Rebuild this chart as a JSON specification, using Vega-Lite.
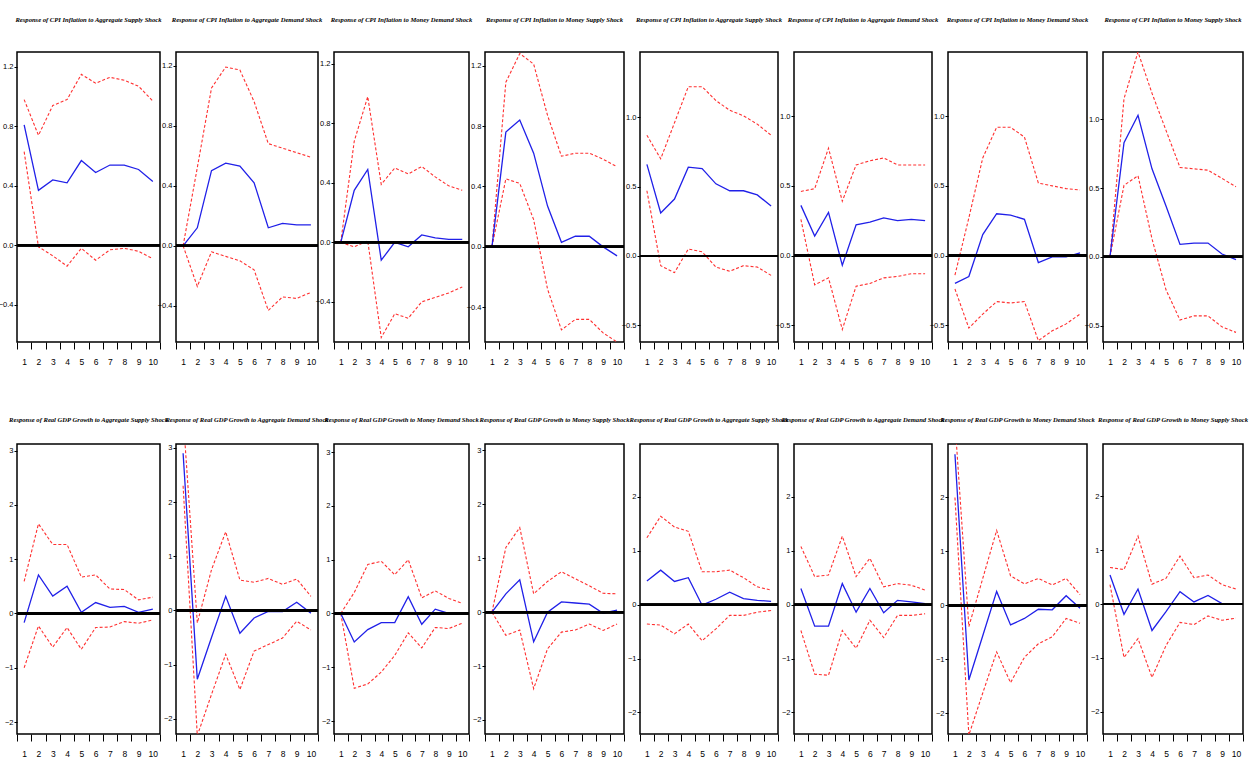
{
"$schema": "https://vega.github.io/schema/vega-lite/v6.json",
"background": "white",
"padding": {"left": -3, "top": 16, "right": 5, "bottom": 5},
"datasets": {"irf": [
{"p":1,"x":1,"r":0.81,"u":0.98,"l":0.63},{"p":1,"x":2,"r":0.37,"u":0.74,"l":-0.01},{"p":1,"x":3,"r":0.44,"u":0.94,"l":-0.07},{"p":1,"x":4,"r":0.42,"u":0.98,"l":-0.14},{"p":1,"x":5,"r":0.57,"u":1.15,"l":-0.02},{"p":1,"x":6,"r":0.49,"u":1.09,"l":-0.10},{"p":1,"x":7,"r":0.54,"u":1.13,"l":-0.03},{"p":1,"x":8,"r":0.54,"u":1.11,"l":-0.02},{"p":1,"x":9,"r":0.51,"u":1.07,"l":-0.04},{"p":1,"x":10,"r":0.43,"u":0.97,"l":-0.09},
{"p":2,"x":1,"r":0,"u":0,"l":0},{"p":2,"x":2,"r":0.12,"u":0.52,"l":-0.27},{"p":2,"x":3,"r":0.50,"u":1.05,"l":-0.04},{"p":2,"x":4,"r":0.55,"u":1.19,"l":-0.07},{"p":2,"x":5,"r":0.53,"u":1.17,"l":-0.10},{"p":2,"x":6,"r":0.42,"u":0.96,"l":-0.16},{"p":2,"x":7,"r":0.12,"u":0.68,"l":-0.43},{"p":2,"x":8,"r":0.15,"u":0.65,"l":-0.34},{"p":2,"x":9,"r":0.14,"u":0.62,"l":-0.35},{"p":2,"x":10,"r":0.14,"u":0.59,"l":-0.31},
{"p":3,"x":1,"r":0,"u":0,"l":0},{"p":3,"x":2,"r":0.35,"u":0.68,"l":-0.03},{"p":3,"x":3,"r":0.49,"u":0.98,"l":0.01},{"p":3,"x":4,"r":-0.12,"u":0.39,"l":-0.64},{"p":3,"x":5,"r":0.0,"u":0.50,"l":-0.48},{"p":3,"x":6,"r":-0.03,"u":0.46,"l":-0.51},{"p":3,"x":7,"r":0.05,"u":0.51,"l":-0.40},{"p":3,"x":8,"r":0.03,"u":0.44,"l":-0.37},{"p":3,"x":9,"r":0.02,"u":0.38,"l":-0.34},{"p":3,"x":10,"r":0.02,"u":0.35,"l":-0.30},
{"p":4,"x":1,"r":0,"u":0,"l":0},{"p":4,"x":2,"r":0.76,"u":1.09,"l":0.45},{"p":4,"x":3,"r":0.84,"u":1.28,"l":0.42},{"p":4,"x":4,"r":0.62,"u":1.21,"l":0.18},{"p":4,"x":5,"r":0.27,"u":0.87,"l":-0.28},{"p":4,"x":6,"r":0.03,"u":0.60,"l":-0.55},{"p":4,"x":7,"r":0.07,"u":0.62,"l":-0.48},{"p":4,"x":8,"r":0.07,"u":0.62,"l":-0.48},{"p":4,"x":9,"r":0.0,"u":0.58,"l":-0.57},{"p":4,"x":10,"r":-0.06,"u":0.53,"l":-0.63},
{"p":5,"x":1,"r":0.66,"u":0.87,"l":0.47},{"p":5,"x":2,"r":0.31,"u":0.70,"l":-0.07},{"p":5,"x":3,"r":0.41,"u":0.96,"l":-0.12},{"p":5,"x":4,"r":0.64,"u":1.22,"l":0.05},{"p":5,"x":5,"r":0.63,"u":1.22,"l":0.03},{"p":5,"x":6,"r":0.52,"u":1.12,"l":-0.08},{"p":5,"x":7,"r":0.47,"u":1.05,"l":-0.11},{"p":5,"x":8,"r":0.47,"u":1.01,"l":-0.07},{"p":5,"x":9,"r":0.44,"u":0.95,"l":-0.08},{"p":5,"x":10,"r":0.36,"u":0.87,"l":-0.14},
{"p":6,"x":1,"r":0.36,"u":0.46,"l":0.26},{"p":6,"x":2,"r":0.14,"u":0.48,"l":-0.21},{"p":6,"x":3,"r":0.31,"u":0.77,"l":-0.16},{"p":6,"x":4,"r":-0.07,"u":0.39,"l":-0.53},{"p":6,"x":5,"r":0.22,"u":0.65,"l":-0.22},{"p":6,"x":6,"r":0.24,"u":0.68,"l":-0.20},{"p":6,"x":7,"r":0.27,"u":0.70,"l":-0.16},{"p":6,"x":8,"r":0.25,"u":0.65,"l":-0.15},{"p":6,"x":9,"r":0.26,"u":0.65,"l":-0.13},{"p":6,"x":10,"r":0.25,"u":0.65,"l":-0.13},
{"p":7,"x":1,"r":-0.20,"u":-0.14,"l":-0.24},{"p":7,"x":2,"r":-0.15,"u":0.27,"l":-0.52},{"p":7,"x":3,"r":0.15,"u":0.70,"l":-0.42},{"p":7,"x":4,"r":0.30,"u":0.92,"l":-0.33},{"p":7,"x":5,"r":0.29,"u":0.92,"l":-0.34},{"p":7,"x":6,"r":0.26,"u":0.85,"l":-0.33},{"p":7,"x":7,"r":-0.05,"u":0.52,"l":-0.61},{"p":7,"x":8,"r":-0.01,"u":0.50,"l":-0.54},{"p":7,"x":9,"r":-0.01,"u":0.48,"l":-0.49},{"p":7,"x":10,"r":0.02,"u":0.47,"l":-0.42},
{"p":8,"x":1,"r":0,"u":0,"l":0},{"p":8,"x":2,"r":0.83,"u":1.15,"l":0.52},{"p":8,"x":3,"r":1.03,"u":1.49,"l":0.59},{"p":8,"x":4,"r":0.64,"u":1.19,"l":0.13},{"p":8,"x":5,"r":0.37,"u":0.92,"l":-0.24},{"p":8,"x":6,"r":0.09,"u":0.65,"l":-0.46},{"p":8,"x":7,"r":0.10,"u":0.64,"l":-0.43},{"p":8,"x":8,"r":0.10,"u":0.63,"l":-0.43},{"p":8,"x":9,"r":0.02,"u":0.57,"l":-0.51},{"p":8,"x":10,"r":-0.02,"u":0.51,"l":-0.55},
{"p":9,"x":1,"r":-0.17,"u":0.59,"l":-1.00},{"p":9,"x":2,"r":0.71,"u":1.65,"l":-0.23},{"p":9,"x":3,"r":0.32,"u":1.27,"l":-0.62},{"p":9,"x":4,"r":0.50,"u":1.27,"l":-0.26},{"p":9,"x":5,"r":0.02,"u":0.67,"l":-0.66},{"p":9,"x":6,"r":0.20,"u":0.71,"l":-0.26},{"p":9,"x":7,"r":0.11,"u":0.45,"l":-0.25},{"p":9,"x":8,"r":0.13,"u":0.44,"l":-0.15},{"p":9,"x":9,"r":0.02,"u":0.25,"l":-0.18},{"p":9,"x":10,"r":0.08,"u":0.30,"l":-0.12},
{"p":10,"x":1,"r":2.9,"u":3.6,"l":2.3},{"p":10,"x":2,"r":-1.27,"u":-0.23,"l":-2.31},{"p":10,"x":3,"r":-0.50,"u":0.75,"l":-1.55},{"p":10,"x":4,"r":0.26,"u":1.45,"l":-0.81},{"p":10,"x":5,"r":-0.42,"u":0.56,"l":-1.46},{"p":10,"x":6,"r":-0.14,"u":0.52,"l":-0.75},{"p":10,"x":7,"r":-0.02,"u":0.59,"l":-0.63},{"p":10,"x":8,"r":-0.02,"u":0.48,"l":-0.51},{"p":10,"x":9,"r":0.15,"u":0.58,"l":-0.20},{"p":10,"x":10,"r":-0.05,"u":0.26,"l":-0.36},
{"p":11,"x":1,"r":0,"u":0,"l":0},{"p":11,"x":2,"r":-0.53,"u":0.39,"l":-1.39},{"p":11,"x":3,"r":-0.30,"u":0.91,"l":-1.31},{"p":11,"x":4,"r":-0.17,"u":0.97,"l":-1.09},{"p":11,"x":5,"r":-0.17,"u":0.72,"l":-0.78},{"p":11,"x":6,"r":0.31,"u":1.00,"l":-0.36},{"p":11,"x":7,"r":-0.20,"u":0.29,"l":-0.64},{"p":11,"x":8,"r":0.08,"u":0.42,"l":-0.26},{"p":11,"x":9,"r":0.0,"u":0.28,"l":-0.28},{"p":11,"x":10,"r":0.0,"u":0.19,"l":-0.18},
{"p":12,"x":1,"r":0,"u":0,"l":0},{"p":12,"x":2,"r":0.34,"u":1.20,"l":-0.43},{"p":12,"x":3,"r":0.60,"u":1.57,"l":-0.33},{"p":12,"x":4,"r":-0.55,"u":0.34,"l":-1.42},{"p":12,"x":5,"r":0.0,"u":0.57,"l":-0.68},{"p":12,"x":6,"r":0.19,"u":0.75,"l":-0.37},{"p":12,"x":7,"r":0.17,"u":0.62,"l":-0.33},{"p":12,"x":8,"r":0.15,"u":0.49,"l":-0.22},{"p":12,"x":9,"r":-0.02,"u":0.35,"l":-0.34},{"p":12,"x":10,"r":0.04,"u":0.34,"l":-0.22},
{"p":13,"x":1,"r":0.44,"u":1.24,"l":-0.36},{"p":13,"x":2,"r":0.64,"u":1.64,"l":-0.38},{"p":13,"x":3,"r":0.43,"u":1.44,"l":-0.54},{"p":13,"x":4,"r":0.50,"u":1.36,"l":-0.36},{"p":13,"x":5,"r":-0.01,"u":0.61,"l":-0.67},{"p":13,"x":6,"r":0.10,"u":0.61,"l":-0.45},{"p":13,"x":7,"r":0.23,"u":0.64,"l":-0.20},{"p":13,"x":8,"r":0.11,"u":0.50,"l":-0.20},{"p":13,"x":9,"r":0.08,"u":0.33,"l":-0.14},{"p":13,"x":10,"r":0.06,"u":0.27,"l":-0.11},
{"p":14,"x":1,"r":0.30,"u":1.08,"l":-0.48},{"p":14,"x":2,"r":-0.40,"u":0.52,"l":-1.29},{"p":14,"x":3,"r":-0.40,"u":0.55,"l":-1.31},{"p":14,"x":4,"r":0.39,"u":1.27,"l":-0.48},{"p":14,"x":5,"r":-0.14,"u":0.52,"l":-0.81},{"p":14,"x":6,"r":0.30,"u":0.86,"l":-0.29},{"p":14,"x":7,"r":-0.15,"u":0.33,"l":-0.61},{"p":14,"x":8,"r":0.08,"u":0.39,"l":-0.20},{"p":14,"x":9,"r":0.05,"u":0.36,"l":-0.20},{"p":14,"x":10,"r":0.02,"u":0.27,"l":-0.17},
{"p":15,"x":1,"r":2.8,"u":3.4,"l":2.0},{"p":15,"x":2,"r":-1.38,"u":-0.39,"l":-2.40},{"p":15,"x":3,"r":-0.56,"u":0.50,"l":-1.62},{"p":15,"x":4,"r":0.26,"u":1.39,"l":-0.86},{"p":15,"x":5,"r":-0.36,"u":0.55,"l":-1.43},{"p":15,"x":6,"r":-0.24,"u":0.40,"l":-0.96},{"p":15,"x":7,"r":-0.07,"u":0.50,"l":-0.71},{"p":15,"x":8,"r":-0.08,"u":0.38,"l":-0.58},{"p":15,"x":9,"r":0.18,"u":0.50,"l":-0.24},{"p":15,"x":10,"r":-0.05,"u":0.20,"l":-0.33},
{"p":16,"x":1,"r":0.54,"u":0.68,"l":0.36},{"p":16,"x":2,"r":-0.19,"u":0.64,"l":-0.99},{"p":16,"x":3,"r":0.28,"u":1.26,"l":-0.64},{"p":16,"x":4,"r":-0.49,"u":0.37,"l":-1.36},{"p":16,"x":5,"r":-0.14,"u":0.48,"l":-0.77},{"p":16,"x":6,"r":0.23,"u":0.89,"l":-0.34},{"p":16,"x":7,"r":0.04,"u":0.49,"l":-0.38},{"p":16,"x":8,"r":0.16,"u":0.54,"l":-0.22},{"p":16,"x":9,"r":0.01,"u":0.36,"l":-0.30},{"p":16,"x":10,"r":0.01,"u":0.28,"l":-0.26}
]},
"columns": 8,
"spacing": {"row": 102, "column": 16},
"bounds": "flush",
"align": "each",
"concat": [
{"title":{"text":"Response of CPI Inflation to Aggregate Supply Shock","offset":28},"width":143,"height":290,"data":{"name":"irf"},"transform":[{"filter":"datum.p==1"}],"resolve":{"axis":{"x":"independent","y":"independent"}},"layer":[
{"mark":{"type":"line","color":"#ff3030","strokeDash":[3,2],"strokeWidth":1.1,"clip":true},"encoding":{"x":{"field":"x","type":"quantitative","scale":{"domain":[0.5,10.5],"nice":false},"axis":{"orient":"bottom","values":[1,2,3,4,5,6,7,8,9,10],"ticks":false,"labelPadding":15,"title":null}},"y":{"field":"u","type":"quantitative","scale":{"domain":[-0.65,1.30],"nice":false,"zero":false},"axis":{"orient":"left","values":[-0.4,0,0.4,0.8,1.2],"format":".1f","title":null}}}},
{"mark":{"type":"line","color":"#ff3030","strokeDash":[3,2],"strokeWidth":1.1,"clip":true},"encoding":{"x":{"field":"x","type":"quantitative","axis":null},"y":{"field":"l","type":"quantitative","axis":null}}},
{"mark":{"type":"line","color":"#2020e8","strokeWidth":1.3,"clip":true},"encoding":{"x":{"field":"x","type":"quantitative","axis":{"orient":"bottom","values":[0.5,1.5,2.5,3.5,4.5,5.5,6.5,7.5,8.5,9.5,10.5],"labels":false,"tickSize":7,"title":null}},"y":{"field":"r","type":"quantitative","axis":null}}},
{"mark":{"type":"rule","color":"black","strokeWidth":2},"encoding":{"y":{"datum":0,"type":"quantitative","axis":null}}}]},
{"title":{"text":"Response of CPI Inflation to Aggregate Demand Shock","offset":28},"width":142,"height":290,"data":{"name":"irf"},"transform":[{"filter":"datum.p==2"}],"resolve":{"axis":{"x":"independent","y":"independent"}},"layer":[
{"mark":{"type":"line","color":"#ff3030","strokeDash":[3,2],"strokeWidth":1.1,"clip":true},"encoding":{"x":{"field":"x","type":"quantitative","scale":{"domain":[0.5,10.5],"nice":false},"axis":{"orient":"bottom","values":[1,2,3,4,5,6,7,8,9,10],"ticks":false,"labelPadding":15,"title":null}},"y":{"field":"u","type":"quantitative","scale":{"domain":[-0.64,1.29],"nice":false,"zero":false},"axis":{"orient":"left","values":[-0.4,0,0.4,0.8,1.2],"format":".1f","title":null}}}},
{"mark":{"type":"line","color":"#ff3030","strokeDash":[3,2],"strokeWidth":1.1,"clip":true},"encoding":{"x":{"field":"x","type":"quantitative","axis":null},"y":{"field":"l","type":"quantitative","axis":null}}},
{"mark":{"type":"line","color":"#2020e8","strokeWidth":1.3,"clip":true},"encoding":{"x":{"field":"x","type":"quantitative","axis":{"orient":"bottom","values":[0.5,1.5,2.5,3.5,4.5,5.5,6.5,7.5,8.5,9.5,10.5],"labels":false,"tickSize":7,"title":null}},"y":{"field":"r","type":"quantitative","axis":null}}},
{"mark":{"type":"rule","color":"black","strokeWidth":2},"encoding":{"y":{"datum":0,"type":"quantitative","axis":null}}}]},
{"title":{"text":"Response of CPI Inflation to Money Demand Shock","offset":28},"width":135,"height":290,"data":{"name":"irf"},"transform":[{"filter":"datum.p==3"}],"resolve":{"axis":{"x":"independent","y":"independent"}},"layer":[
{"mark":{"type":"line","color":"#ff3030","strokeDash":[3,2],"strokeWidth":1.1,"clip":true},"encoding":{"x":{"field":"x","type":"quantitative","scale":{"domain":[0.5,10.5],"nice":false},"axis":{"orient":"bottom","values":[1,2,3,4,5,6,7,8,9,10],"ticks":false,"labelPadding":15,"title":null}},"y":{"field":"u","type":"quantitative","scale":{"domain":[-0.67,1.28],"nice":false,"zero":false},"axis":{"orient":"left","values":[-0.4,0,0.4,0.8,1.2],"format":".1f","title":null}}}},
{"mark":{"type":"line","color":"#ff3030","strokeDash":[3,2],"strokeWidth":1.1,"clip":true},"encoding":{"x":{"field":"x","type":"quantitative","axis":null},"y":{"field":"l","type":"quantitative","axis":null}}},
{"mark":{"type":"line","color":"#2020e8","strokeWidth":1.3,"clip":true},"encoding":{"x":{"field":"x","type":"quantitative","axis":{"orient":"bottom","values":[0.5,1.5,2.5,3.5,4.5,5.5,6.5,7.5,8.5,9.5,10.5],"labels":false,"tickSize":7,"title":null}},"y":{"field":"r","type":"quantitative","axis":null}}},
{"mark":{"type":"rule","color":"black","strokeWidth":2},"encoding":{"y":{"datum":0,"type":"quantitative","axis":null}}}]},
{"title":{"text":"Response of CPI Inflation to Money Supply Shock","offset":28},"width":139,"height":290,"data":{"name":"irf"},"transform":[{"filter":"datum.p==4"}],"resolve":{"axis":{"x":"independent","y":"independent"}},"layer":[
{"mark":{"type":"line","color":"#ff3030","strokeDash":[3,2],"strokeWidth":1.1,"clip":true},"encoding":{"x":{"field":"x","type":"quantitative","scale":{"domain":[0.5,10.5],"nice":false},"axis":{"orient":"bottom","values":[1,2,3,4,5,6,7,8,9,10],"ticks":false,"labelPadding":15,"title":null}},"y":{"field":"u","type":"quantitative","scale":{"domain":[-0.63,1.29],"nice":false,"zero":false},"axis":{"orient":"left","values":[-0.4,0,0.4,0.8,1.2],"format":".1f","title":null}}}},
{"mark":{"type":"line","color":"#ff3030","strokeDash":[3,2],"strokeWidth":1.1,"clip":true},"encoding":{"x":{"field":"x","type":"quantitative","axis":null},"y":{"field":"l","type":"quantitative","axis":null}}},
{"mark":{"type":"line","color":"#2020e8","strokeWidth":1.3,"clip":true},"encoding":{"x":{"field":"x","type":"quantitative","axis":{"orient":"bottom","values":[0.5,1.5,2.5,3.5,4.5,5.5,6.5,7.5,8.5,9.5,10.5],"labels":false,"tickSize":7,"title":null}},"y":{"field":"r","type":"quantitative","axis":null}}},
{"mark":{"type":"rule","color":"black","strokeWidth":2},"encoding":{"y":{"datum":0,"type":"quantitative","axis":null}}}]},
{"title":{"text":"Response of CPI Inflation to Aggregate Supply Shock","offset":28},"width":138,"height":290,"data":{"name":"irf"},"transform":[{"filter":"datum.p==5"}],"resolve":{"axis":{"x":"independent","y":"independent"}},"layer":[
{"mark":{"type":"line","color":"#ff3030","strokeDash":[3,2],"strokeWidth":1.1,"clip":true},"encoding":{"x":{"field":"x","type":"quantitative","scale":{"domain":[0.5,10.5],"nice":false},"axis":{"orient":"bottom","values":[1,2,3,4,5,6,7,8,9,10],"ticks":false,"labelPadding":15,"title":null}},"y":{"field":"u","type":"quantitative","scale":{"domain":[-0.62,1.47],"nice":false,"zero":false},"axis":{"orient":"left","values":[-0.5,0,0.5,1],"format":".1f","title":null}}}},
{"mark":{"type":"line","color":"#ff3030","strokeDash":[3,2],"strokeWidth":1.1,"clip":true},"encoding":{"x":{"field":"x","type":"quantitative","axis":null},"y":{"field":"l","type":"quantitative","axis":null}}},
{"mark":{"type":"line","color":"#2020e8","strokeWidth":1.3,"clip":true},"encoding":{"x":{"field":"x","type":"quantitative","axis":{"orient":"bottom","values":[0.5,1.5,2.5,3.5,4.5,5.5,6.5,7.5,8.5,9.5,10.5],"labels":false,"tickSize":7,"title":null}},"y":{"field":"r","type":"quantitative","axis":null}}},
{"mark":{"type":"rule","color":"black","strokeWidth":2},"encoding":{"y":{"datum":0,"type":"quantitative","axis":null}}}]},
{"title":{"text":"Response of CPI Inflation to Aggregate Demand Shock","offset":28},"width":138,"height":290,"data":{"name":"irf"},"transform":[{"filter":"datum.p==6"}],"resolve":{"axis":{"x":"independent","y":"independent"}},"layer":[
{"mark":{"type":"line","color":"#ff3030","strokeDash":[3,2],"strokeWidth":1.1,"clip":true},"encoding":{"x":{"field":"x","type":"quantitative","scale":{"domain":[0.5,10.5],"nice":false},"axis":{"orient":"bottom","values":[1,2,3,4,5,6,7,8,9,10],"ticks":false,"labelPadding":15,"title":null}},"y":{"field":"u","type":"quantitative","scale":{"domain":[-0.62,1.46],"nice":false,"zero":false},"axis":{"orient":"left","values":[-0.5,0,0.5,1],"format":".1f","title":null}}}},
{"mark":{"type":"line","color":"#ff3030","strokeDash":[3,2],"strokeWidth":1.1,"clip":true},"encoding":{"x":{"field":"x","type":"quantitative","axis":null},"y":{"field":"l","type":"quantitative","axis":null}}},
{"mark":{"type":"line","color":"#2020e8","strokeWidth":1.3,"clip":true},"encoding":{"x":{"field":"x","type":"quantitative","axis":{"orient":"bottom","values":[0.5,1.5,2.5,3.5,4.5,5.5,6.5,7.5,8.5,9.5,10.5],"labels":false,"tickSize":7,"title":null}},"y":{"field":"r","type":"quantitative","axis":null}}},
{"mark":{"type":"rule","color":"black","strokeWidth":2},"encoding":{"y":{"datum":0,"type":"quantitative","axis":null}}}]},
{"title":{"text":"Response of CPI Inflation to Money Demand Shock","offset":28},"width":139,"height":290,"data":{"name":"irf"},"transform":[{"filter":"datum.p==7"}],"resolve":{"axis":{"x":"independent","y":"independent"}},"layer":[
{"mark":{"type":"line","color":"#ff3030","strokeDash":[3,2],"strokeWidth":1.1,"clip":true},"encoding":{"x":{"field":"x","type":"quantitative","scale":{"domain":[0.5,10.5],"nice":false},"axis":{"orient":"bottom","values":[1,2,3,4,5,6,7,8,9,10],"ticks":false,"labelPadding":15,"title":null}},"y":{"field":"u","type":"quantitative","scale":{"domain":[-0.62,1.46],"nice":false,"zero":false},"axis":{"orient":"left","values":[-0.5,0,0.5,1],"format":".1f","title":null}}}},
{"mark":{"type":"line","color":"#ff3030","strokeDash":[3,2],"strokeWidth":1.1,"clip":true},"encoding":{"x":{"field":"x","type":"quantitative","axis":null},"y":{"field":"l","type":"quantitative","axis":null}}},
{"mark":{"type":"line","color":"#2020e8","strokeWidth":1.3,"clip":true},"encoding":{"x":{"field":"x","type":"quantitative","axis":{"orient":"bottom","values":[0.5,1.5,2.5,3.5,4.5,5.5,6.5,7.5,8.5,9.5,10.5],"labels":false,"tickSize":7,"title":null}},"y":{"field":"r","type":"quantitative","axis":null}}},
{"mark":{"type":"rule","color":"black","strokeWidth":2},"encoding":{"y":{"datum":0,"type":"quantitative","axis":null}}}]},
{"title":{"text":"Response of CPI Inflation to Money Supply Shock","offset":28},"width":140,"height":290,"data":{"name":"irf"},"transform":[{"filter":"datum.p==8"}],"resolve":{"axis":{"x":"independent","y":"independent"}},"layer":[
{"mark":{"type":"line","color":"#ff3030","strokeDash":[3,2],"strokeWidth":1.1,"clip":true},"encoding":{"x":{"field":"x","type":"quantitative","scale":{"domain":[0.5,10.5],"nice":false},"axis":{"orient":"bottom","values":[1,2,3,4,5,6,7,8,9,10],"ticks":false,"labelPadding":15,"title":null}},"y":{"field":"u","type":"quantitative","scale":{"domain":[-0.62,1.49],"nice":false,"zero":false},"axis":{"orient":"left","values":[-0.5,0,0.5,1],"format":".1f","title":null}}}},
{"mark":{"type":"line","color":"#ff3030","strokeDash":[3,2],"strokeWidth":1.1,"clip":true},"encoding":{"x":{"field":"x","type":"quantitative","axis":null},"y":{"field":"l","type":"quantitative","axis":null}}},
{"mark":{"type":"line","color":"#2020e8","strokeWidth":1.3,"clip":true},"encoding":{"x":{"field":"x","type":"quantitative","axis":{"orient":"bottom","values":[0.5,1.5,2.5,3.5,4.5,5.5,6.5,7.5,8.5,9.5,10.5],"labels":false,"tickSize":7,"title":null}},"y":{"field":"r","type":"quantitative","axis":null}}},
{"mark":{"type":"rule","color":"black","strokeWidth":2},"encoding":{"y":{"datum":0,"type":"quantitative","axis":null}}}]},
{"title":{"text":"Response of Real GDP Growth to Aggregate Supply Shock","offset":20},"width":143,"height":290,"data":{"name":"irf"},"transform":[{"filter":"datum.p==9"}],"resolve":{"axis":{"x":"independent","y":"independent"}},"layer":[
{"mark":{"type":"line","color":"#ff3030","strokeDash":[3,2],"strokeWidth":1.1,"clip":true},"encoding":{"x":{"field":"x","type":"quantitative","scale":{"domain":[0.5,10.5],"nice":false},"axis":{"orient":"bottom","values":[1,2,3,4,5,6,7,8,9,10],"ticks":false,"labelPadding":15,"title":null}},"y":{"field":"u","type":"quantitative","scale":{"domain":[-2.22,3.12],"nice":false,"zero":false},"axis":{"orient":"left","values":[-2,-1,0,1,2,3],"format":"d","title":null}}}},
{"mark":{"type":"line","color":"#ff3030","strokeDash":[3,2],"strokeWidth":1.1,"clip":true},"encoding":{"x":{"field":"x","type":"quantitative","axis":null},"y":{"field":"l","type":"quantitative","axis":null}}},
{"mark":{"type":"line","color":"#2020e8","strokeWidth":1.3,"clip":true},"encoding":{"x":{"field":"x","type":"quantitative","axis":{"orient":"bottom","values":[0.5,1.5,2.5,3.5,4.5,5.5,6.5,7.5,8.5,9.5,10.5],"labels":false,"tickSize":7,"title":null}},"y":{"field":"r","type":"quantitative","axis":null}}},
{"mark":{"type":"rule","color":"black","strokeWidth":2},"encoding":{"y":{"datum":0,"type":"quantitative","axis":null}}}]},
{"title":{"text":"Response of Real GDP Growth to Aggregate Demand Shock","offset":20},"width":142,"height":290,"data":{"name":"irf"},"transform":[{"filter":"datum.p==10"}],"resolve":{"axis":{"x":"independent","y":"independent"}},"layer":[
{"mark":{"type":"line","color":"#ff3030","strokeDash":[3,2],"strokeWidth":1.1,"clip":true},"encoding":{"x":{"field":"x","type":"quantitative","scale":{"domain":[0.5,10.5],"nice":false},"axis":{"orient":"bottom","values":[1,2,3,4,5,6,7,8,9,10],"ticks":false,"labelPadding":15,"title":null}},"y":{"field":"u","type":"quantitative","scale":{"domain":[-2.28,3.07],"nice":false,"zero":false},"axis":{"orient":"left","values":[-2,-1,0,1,2,3],"format":"d","title":null}}}},
{"mark":{"type":"line","color":"#ff3030","strokeDash":[3,2],"strokeWidth":1.1,"clip":true},"encoding":{"x":{"field":"x","type":"quantitative","axis":null},"y":{"field":"l","type":"quantitative","axis":null}}},
{"mark":{"type":"line","color":"#2020e8","strokeWidth":1.3,"clip":true},"encoding":{"x":{"field":"x","type":"quantitative","axis":{"orient":"bottom","values":[0.5,1.5,2.5,3.5,4.5,5.5,6.5,7.5,8.5,9.5,10.5],"labels":false,"tickSize":7,"title":null}},"y":{"field":"r","type":"quantitative","axis":null}}},
{"mark":{"type":"rule","color":"black","strokeWidth":2},"encoding":{"y":{"datum":0,"type":"quantitative","axis":null}}}]},
{"title":{"text":"Response of Real GDP Growth to Money Demand Shock","offset":20},"width":135,"height":290,"data":{"name":"irf"},"transform":[{"filter":"datum.p==11"}],"resolve":{"axis":{"x":"independent","y":"independent"}},"layer":[
{"mark":{"type":"line","color":"#ff3030","strokeDash":[3,2],"strokeWidth":1.1,"clip":true},"encoding":{"x":{"field":"x","type":"quantitative","scale":{"domain":[0.5,10.5],"nice":false},"axis":{"orient":"bottom","values":[1,2,3,4,5,6,7,8,9,10],"ticks":false,"labelPadding":15,"title":null}},"y":{"field":"u","type":"quantitative","scale":{"domain":[-2.24,3.15],"nice":false,"zero":false},"axis":{"orient":"left","values":[-2,-1,0,1,2,3],"format":"d","title":null}}}},
{"mark":{"type":"line","color":"#ff3030","strokeDash":[3,2],"strokeWidth":1.1,"clip":true},"encoding":{"x":{"field":"x","type":"quantitative","axis":null},"y":{"field":"l","type":"quantitative","axis":null}}},
{"mark":{"type":"line","color":"#2020e8","strokeWidth":1.3,"clip":true},"encoding":{"x":{"field":"x","type":"quantitative","axis":{"orient":"bottom","values":[0.5,1.5,2.5,3.5,4.5,5.5,6.5,7.5,8.5,9.5,10.5],"labels":false,"tickSize":7,"title":null}},"y":{"field":"r","type":"quantitative","axis":null}}},
{"mark":{"type":"rule","color":"black","strokeWidth":2},"encoding":{"y":{"datum":0,"type":"quantitative","axis":null}}}]},
{"title":{"text":"Response of Real GDP Growth to Money Supply Shock","offset":20},"width":139,"height":290,"data":{"name":"irf"},"transform":[{"filter":"datum.p==12"}],"resolve":{"axis":{"x":"independent","y":"independent"}},"layer":[
{"mark":{"type":"line","color":"#ff3030","strokeDash":[3,2],"strokeWidth":1.1,"clip":true},"encoding":{"x":{"field":"x","type":"quantitative","scale":{"domain":[0.5,10.5],"nice":false},"axis":{"orient":"bottom","values":[1,2,3,4,5,6,7,8,9,10],"ticks":false,"labelPadding":15,"title":null}},"y":{"field":"u","type":"quantitative","scale":{"domain":[-2.26,3.12],"nice":false,"zero":false},"axis":{"orient":"left","values":[-2,-1,0,1,2,3],"format":"d","title":null}}}},
{"mark":{"type":"line","color":"#ff3030","strokeDash":[3,2],"strokeWidth":1.1,"clip":true},"encoding":{"x":{"field":"x","type":"quantitative","axis":null},"y":{"field":"l","type":"quantitative","axis":null}}},
{"mark":{"type":"line","color":"#2020e8","strokeWidth":1.3,"clip":true},"encoding":{"x":{"field":"x","type":"quantitative","axis":{"orient":"bottom","values":[0.5,1.5,2.5,3.5,4.5,5.5,6.5,7.5,8.5,9.5,10.5],"labels":false,"tickSize":7,"title":null}},"y":{"field":"r","type":"quantitative","axis":null}}},
{"mark":{"type":"rule","color":"black","strokeWidth":2},"encoding":{"y":{"datum":0,"type":"quantitative","axis":null}}}]},
{"title":{"text":"Response of Real GDP Growth to Aggregate Supply Shock","offset":20},"width":138,"height":290,"data":{"name":"irf"},"transform":[{"filter":"datum.p==13"}],"resolve":{"axis":{"x":"independent","y":"independent"}},"layer":[
{"mark":{"type":"line","color":"#ff3030","strokeDash":[3,2],"strokeWidth":1.1,"clip":true},"encoding":{"x":{"field":"x","type":"quantitative","scale":{"domain":[0.5,10.5],"nice":false},"axis":{"orient":"bottom","values":[1,2,3,4,5,6,7,8,9,10],"ticks":false,"labelPadding":15,"title":null}},"y":{"field":"u","type":"quantitative","scale":{"domain":[-2.4,2.98],"nice":false,"zero":false},"axis":{"orient":"left","values":[-2,-1,0,1,2],"format":"d","title":null}}}},
{"mark":{"type":"line","color":"#ff3030","strokeDash":[3,2],"strokeWidth":1.1,"clip":true},"encoding":{"x":{"field":"x","type":"quantitative","axis":null},"y":{"field":"l","type":"quantitative","axis":null}}},
{"mark":{"type":"line","color":"#2020e8","strokeWidth":1.3,"clip":true},"encoding":{"x":{"field":"x","type":"quantitative","axis":{"orient":"bottom","values":[0.5,1.5,2.5,3.5,4.5,5.5,6.5,7.5,8.5,9.5,10.5],"labels":false,"tickSize":7,"title":null}},"y":{"field":"r","type":"quantitative","axis":null}}},
{"mark":{"type":"rule","color":"black","strokeWidth":2},"encoding":{"y":{"datum":0,"type":"quantitative","axis":null}}}]},
{"title":{"text":"Response of Real GDP Growth to Aggregate Demand Shock","offset":20},"width":138,"height":290,"data":{"name":"irf"},"transform":[{"filter":"datum.p==14"}],"resolve":{"axis":{"x":"independent","y":"independent"}},"layer":[
{"mark":{"type":"line","color":"#ff3030","strokeDash":[3,2],"strokeWidth":1.1,"clip":true},"encoding":{"x":{"field":"x","type":"quantitative","scale":{"domain":[0.5,10.5],"nice":false},"axis":{"orient":"bottom","values":[1,2,3,4,5,6,7,8,9,10],"ticks":false,"labelPadding":15,"title":null}},"y":{"field":"u","type":"quantitative","scale":{"domain":[-2.4,2.98],"nice":false,"zero":false},"axis":{"orient":"left","values":[-2,-1,0,1,2],"format":"d","title":null}}}},
{"mark":{"type":"line","color":"#ff3030","strokeDash":[3,2],"strokeWidth":1.1,"clip":true},"encoding":{"x":{"field":"x","type":"quantitative","axis":null},"y":{"field":"l","type":"quantitative","axis":null}}},
{"mark":{"type":"line","color":"#2020e8","strokeWidth":1.3,"clip":true},"encoding":{"x":{"field":"x","type":"quantitative","axis":{"orient":"bottom","values":[0.5,1.5,2.5,3.5,4.5,5.5,6.5,7.5,8.5,9.5,10.5],"labels":false,"tickSize":7,"title":null}},"y":{"field":"r","type":"quantitative","axis":null}}},
{"mark":{"type":"rule","color":"black","strokeWidth":2},"encoding":{"y":{"datum":0,"type":"quantitative","axis":null}}}]},
{"title":{"text":"Response of Real GDP Growth to Money Demand Shock","offset":20},"width":139,"height":290,"data":{"name":"irf"},"transform":[{"filter":"datum.p==15"}],"resolve":{"axis":{"x":"independent","y":"independent"}},"layer":[
{"mark":{"type":"line","color":"#ff3030","strokeDash":[3,2],"strokeWidth":1.1,"clip":true},"encoding":{"x":{"field":"x","type":"quantitative","scale":{"domain":[0.5,10.5],"nice":false},"axis":{"orient":"bottom","values":[1,2,3,4,5,6,7,8,9,10],"ticks":false,"labelPadding":15,"title":null}},"y":{"field":"u","type":"quantitative","scale":{"domain":[-2.38,2.99],"nice":false,"zero":false},"axis":{"orient":"left","values":[-2,-1,0,1,2],"format":"d","title":null}}}},
{"mark":{"type":"line","color":"#ff3030","strokeDash":[3,2],"strokeWidth":1.1,"clip":true},"encoding":{"x":{"field":"x","type":"quantitative","axis":null},"y":{"field":"l","type":"quantitative","axis":null}}},
{"mark":{"type":"line","color":"#2020e8","strokeWidth":1.3,"clip":true},"encoding":{"x":{"field":"x","type":"quantitative","axis":{"orient":"bottom","values":[0.5,1.5,2.5,3.5,4.5,5.5,6.5,7.5,8.5,9.5,10.5],"labels":false,"tickSize":7,"title":null}},"y":{"field":"r","type":"quantitative","axis":null}}},
{"mark":{"type":"rule","color":"black","strokeWidth":2},"encoding":{"y":{"datum":0,"type":"quantitative","axis":null}}}]},
{"title":{"text":"Response of Real GDP Growth to Money Supply Shock","offset":20},"width":140,"height":290,"data":{"name":"irf"},"transform":[{"filter":"datum.p==16"}],"resolve":{"axis":{"x":"independent","y":"independent"}},"layer":[
{"mark":{"type":"line","color":"#ff3030","strokeDash":[3,2],"strokeWidth":1.1,"clip":true},"encoding":{"x":{"field":"x","type":"quantitative","scale":{"domain":[0.5,10.5],"nice":false},"axis":{"orient":"bottom","values":[1,2,3,4,5,6,7,8,9,10],"ticks":false,"labelPadding":15,"title":null}},"y":{"field":"u","type":"quantitative","scale":{"domain":[-2.41,2.97],"nice":false,"zero":false},"axis":{"orient":"left","values":[-2,-1,0,1,2],"format":"d","title":null}}}},
{"mark":{"type":"line","color":"#ff3030","strokeDash":[3,2],"strokeWidth":1.1,"clip":true},"encoding":{"x":{"field":"x","type":"quantitative","axis":null},"y":{"field":"l","type":"quantitative","axis":null}}},
{"mark":{"type":"line","color":"#2020e8","strokeWidth":1.3,"clip":true},"encoding":{"x":{"field":"x","type":"quantitative","axis":{"orient":"bottom","values":[0.5,1.5,2.5,3.5,4.5,5.5,6.5,7.5,8.5,9.5,10.5],"labels":false,"tickSize":7,"title":null}},"y":{"field":"r","type":"quantitative","axis":null}}},
{"mark":{"type":"rule","color":"black","strokeWidth":2},"encoding":{"y":{"datum":0,"type":"quantitative","axis":null}}}]}
],
"config": {
"view": {"stroke": "black", "strokeWidth": 1.5},
"axis": {"grid": false, "domain": false, "labelFont": "Liberation Sans Narrow, Liberation Sans", "labelFontSize": 8.5, "labelColor": "black", "tickColor": "black", "tickWidth": 1},
"axisY": {"tickSize": 3, "labelPadding": 1, "labelFontSize": 7.5},
"title": {"font": "Liberation Serif", "fontStyle": "italic", "fontWeight": "bold", "fontSize": 6.6, "color": "black", "anchor": "middle"}
}
}
